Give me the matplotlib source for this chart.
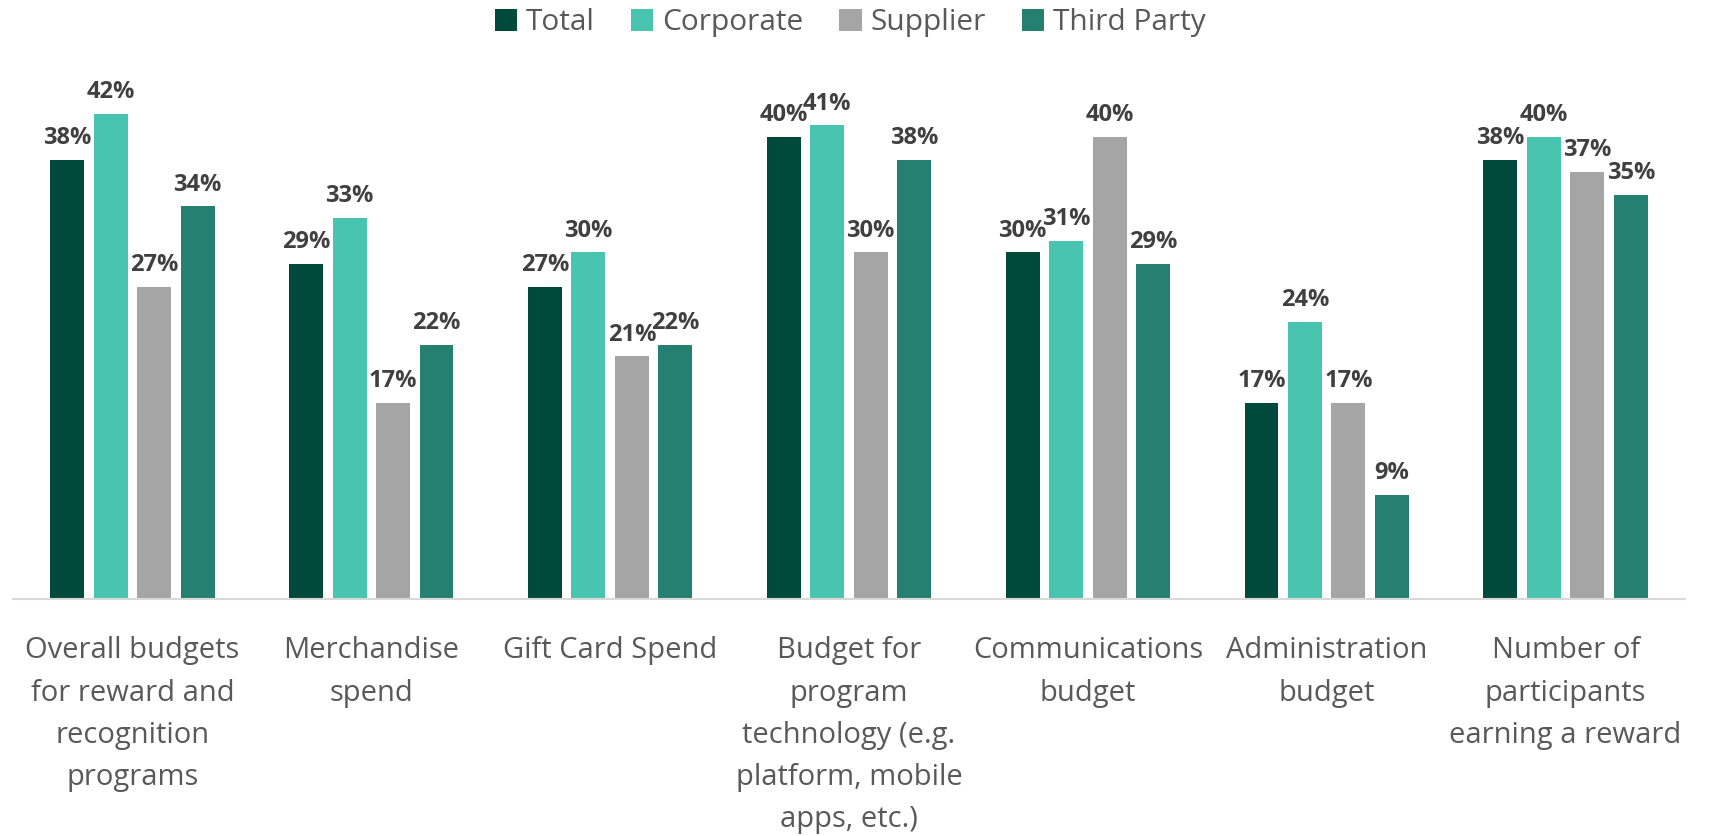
import numpy as np
import matplotlib.pyplot as plt

plt.rcParams['font.family'] = ['Open Sans', 'DejaVu Sans']

categories = [
    "Overall budgets\nfor reward and\nrecognition\nprograms",
    "Merchandise\nspend",
    "Gift Card Spend",
    "Budget for\nprogram\ntechnology (e.g.\nplatform, mobile\napps, etc.)",
    "Communications\nbudget",
    "Administration\nbudget",
    "Number of\nparticipants\nearning a reward",
]
series_names = ["Total", "Corporate", "Supplier", "Third Party"]
total = [38, 29, 27, 40, 30, 17, 38]
corporate = [42, 33, 30, 41, 31, 24, 40]
supplier = [27, 17, 21, 30, 40, 17, 37]
third_party = [34, 22, 22, 38, 29, 9, 35]

colors = ["#004A3C", "#48C4B1", "#A5A5A5", "#258071"]

fig = plt.figure(figsize=(17.11, 8.36), dpi=100)
ax = fig.add_axes([0.0076, 0.2835, 0.9772, 0.6079])

x = np.arange(len(categories))
width = 0.142
pitch = 0.182
for i, (name, vals) in enumerate(zip(series_names, [total, corporate, supplier, third_party])):
    offs = (i - 1.5) * pitch
    bars = ax.bar(x + offs, vals, width, color=colors[i], label=name, zorder=2)
    ax.bar_label(bars, labels=[f"{v}%" for v in vals], padding=7,
                 fontsize=17, fontweight='bold', color='#404040', zorder=5)

ax.set_xlim(-0.5, len(categories) - 0.5)
ax.set_ylim(0, 44)
ax.set_yticks([])
for s in ['top', 'right', 'left']:
    ax.spines[s].set_visible(False)
ax.spines['bottom'].set_color('#D9D9D9')
ax.spines['bottom'].set_linewidth(1.5)

ax.set_xticks(x)
ax.set_xticklabels(categories, fontsize=21, color='#595959', linespacing=1.6)
ax.tick_params(axis='x', length=0, pad=27)

leg = fig.legend(loc='center', bbox_to_anchor=(0.497, 0.973), ncol=4, frameon=False,
                 fontsize=21.5, handlelength=0.75, handleheight=0.75,
                 handletextpad=0.3, columnspacing=1.2)
for t in leg.get_texts():
    t.set_color('#595959')

fig.savefig('out.png', dpi=100)
